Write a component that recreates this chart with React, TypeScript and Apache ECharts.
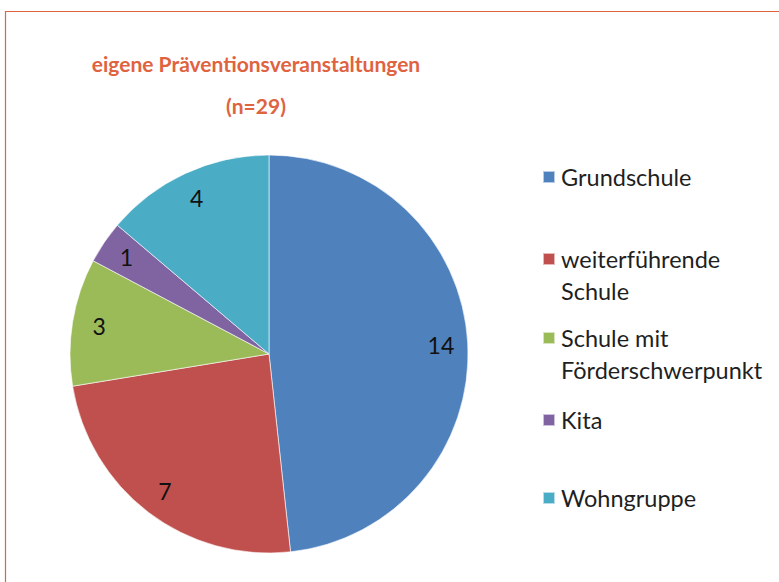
import React, { useEffect, useRef } from "react";
import * as echarts from "echarts";

const titleLines = ["eigene Präventionsveranstaltungen", "(n=29)"];
const categories = [
  "Grundschule",
  "weiterführende Schule",
  "Schule mit Förderschwerpunkt",
  "Kita",
  "Wohngruppe",
];
const legendLabels = [
  "Grundschule",
  "weiterführende\nSchule",
  "Schule mit\nFörderschwerpunkt",
  "Kita",
  "Wohngruppe",
];
const values = [14, 7, 3, 1, 4];
const colors = ["#4F81BD", "#C0504D", "#9BBB59", "#8064A2", "#4BACC6"];
const legendTops = [177, 258, 337, 420, 498];

const FONT = "Lato, 'Open Sans', sans-serif";
const ORANGE = "#E0633F";

export default function App() {
  const ref = useRef<HTMLDivElement>(null);
  useEffect(() => {
    if (!ref.current) return;
    const chart = echarts.init(ref.current, null, { renderer: "svg" });
    const cx = 269;
    const cy = 354;
    const r = 199;
    const data = categories.map((name, i) => ({
      name,
      value: values[i],
      itemStyle: { color: colors[i] },
    }));
    const legends = categories.map((name, i) => {
      const multi = legendLabels[i].includes("\n");
      return {
        data: [name],
        left: 542,
        top: multi ? legendTops[i] - 47 : legendTops[i] - 16,
        orient: "vertical",
        itemWidth: 12,
        itemHeight: 12,
        itemGap: 0,
        padding: 0,
        icon: "rect",
        selectedMode: false,
        formatter: () => (multi ? " \n" + legendLabels[i] : legendLabels[i]),
        textStyle: {
          fontFamily: FONT,
          fontSize: 23.5,
          color: "#1f1f1f",
          lineHeight: 32,
          padding: [0, 0, 0, 1],
        },
      };
    });
    chart.setOption({
      animation: false,
      backgroundColor: "#ffffff",
      title: {
        text: titleLines.join("\n"),
        left: 251,
        top: 37,
        textAlign: "center",
        textStyle: {
          fontFamily: FONT,
          fontWeight: "bold",
          fontSize: 21,
          color: ORANGE,
          lineHeight: 42,
        },
      },
      legend: legends,
      graphic: [
        {
          type: "rect",
          shape: { x: 5.5, y: 11.5, width: 900, height: 700 },
          style: { fill: "none", stroke: ORANGE, lineWidth: 1.2 },
          silent: true,
        },
      ],
      series: [
        {
          type: "pie",
          center: [cx, cy],
          radius: [0, r],
          startAngle: 90,
          clockwise: true,
          label: { show: false },
          labelLine: { show: false },
          itemStyle: { borderColor: "rgba(255,255,255,0.6)", borderWidth: 1 },
          emphasis: { disabled: true },
          data,
        },
        {
          type: "pie",
          center: [cx, cy],
          radius: [r * 0.7, r],
          startAngle: 90,
          clockwise: true,
          silent: true,
          itemStyle: { color: "rgba(0,0,0,0)" },
          label: {
            show: true,
            position: "inside",
            formatter: "{c}",
            fontFamily: FONT,
            fontSize: 23,
            color: "#111111",
          },
          labelLine: { show: false },
          emphasis: { disabled: true },
          data: categories.map((name, i) => ({
            name,
            value: values[i],
            itemStyle: { color: "rgba(0,0,0,0)" },
          })),
        },
      ],
    });
    return () => chart.dispose();
  }, []);
  return (
    <div
      ref={ref}
      style={{ position: "fixed", left: 0, top: 0, width: 779, height: 582 }}
    />
  );
}
